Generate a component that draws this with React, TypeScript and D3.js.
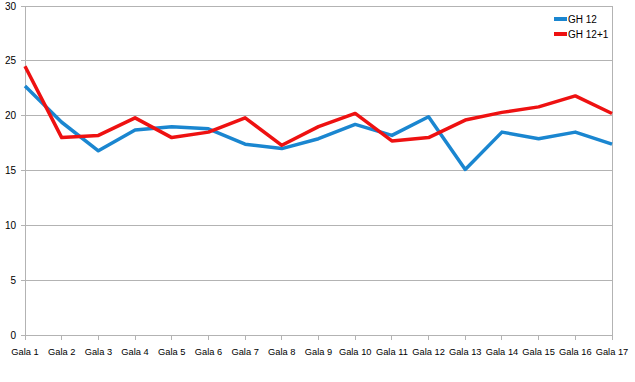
import React from "react";
import * as d3 from "d3";

const categories = ["Gala 1","Gala 2","Gala 3","Gala 4","Gala 5","Gala 6","Gala 7","Gala 8","Gala 9","Gala 10","Gala 11","Gala 12","Gala 13","Gala 14","Gala 15","Gala 16","Gala 17"];
const gh12 = [22.7, 19.4, 16.8, 18.7, 19.0, 18.8, 17.4, 17.0, 17.9, 19.2, 18.2, 19.9, 15.1, 18.5, 17.9, 18.5, 17.4];
const gh13 = [24.5, 18.0, 18.2, 19.8, 18.0, 18.5, 19.8, 17.3, 19.0, 20.2, 17.7, 18.0, 19.6, 20.3, 20.8, 21.8, 20.2];
const yTicks = [0, 5, 10, 15, 20, 25, 30];
const seriesNames = ["GH 12", "GH 12+1"];
const colors = ["#1a86d0", "#ee1111"];

export default function App() {
  const W = 635, H = 382;
  const x = d3.scalePoint<string>().domain(categories).range([25, 612]);
  const y = d3.scaleLinear().domain([0, 30]).range([335, 6]);
  const line = d3.line<number>().x((_, i) => x(categories[i])!).y(d => y(d));
  const series = [gh12, gh13];
  const font = "'Liberation Sans', Arial, sans-serif";
  return (
    <svg width={W} height={H} style={{ position: "absolute", left: 0, top: 0, background: "#fff" }}>
      {yTicks.map(t => (
        <g key={t}>
          <line x1={21} x2={612} y1={y(t)} y2={y(t)} stroke="#b3b3b3" strokeWidth={1} shapeRendering="crispEdges" />
          <text x={16} y={y(t) + 3.5} textAnchor="end" fontSize={10} fontFamily={font} fill="#000">{t}</text>
        </g>
      ))}
      <line x1={25} x2={25} y1={6} y2={335} stroke="#b3b3b3" shapeRendering="crispEdges" />
      <line x1={612} x2={612} y1={6} y2={335} stroke="#b3b3b3" shapeRendering="crispEdges" />
      {categories.map(c => (
        <g key={c}>
          <line x1={x(c)} x2={x(c)} y1={335} y2={340} stroke="#b3b3b3" shapeRendering="crispEdges" />
          <text x={x(c)} y={355} textAnchor="middle" fontSize={9.3} fontFamily={font} fill="#000">{c}</text>
        </g>
      ))}
      {series.map((s, i) => (
        <path key={i} d={line(s)!} fill="none" stroke={colors[i]} strokeWidth={3.5} strokeLinejoin="round" />
      ))}
      {seriesNames.map((n, i) => (
        <g key={n}>
          <line x1={554} x2={567} y1={19 + i * 15} y2={19 + i * 15} stroke={colors[i]} strokeWidth={4} />
          <text x={568} y={22.5 + i * 15} fontSize={10} fontFamily={font} fill="#000">{n}</text>
        </g>
      ))}
    </svg>
  );
}
